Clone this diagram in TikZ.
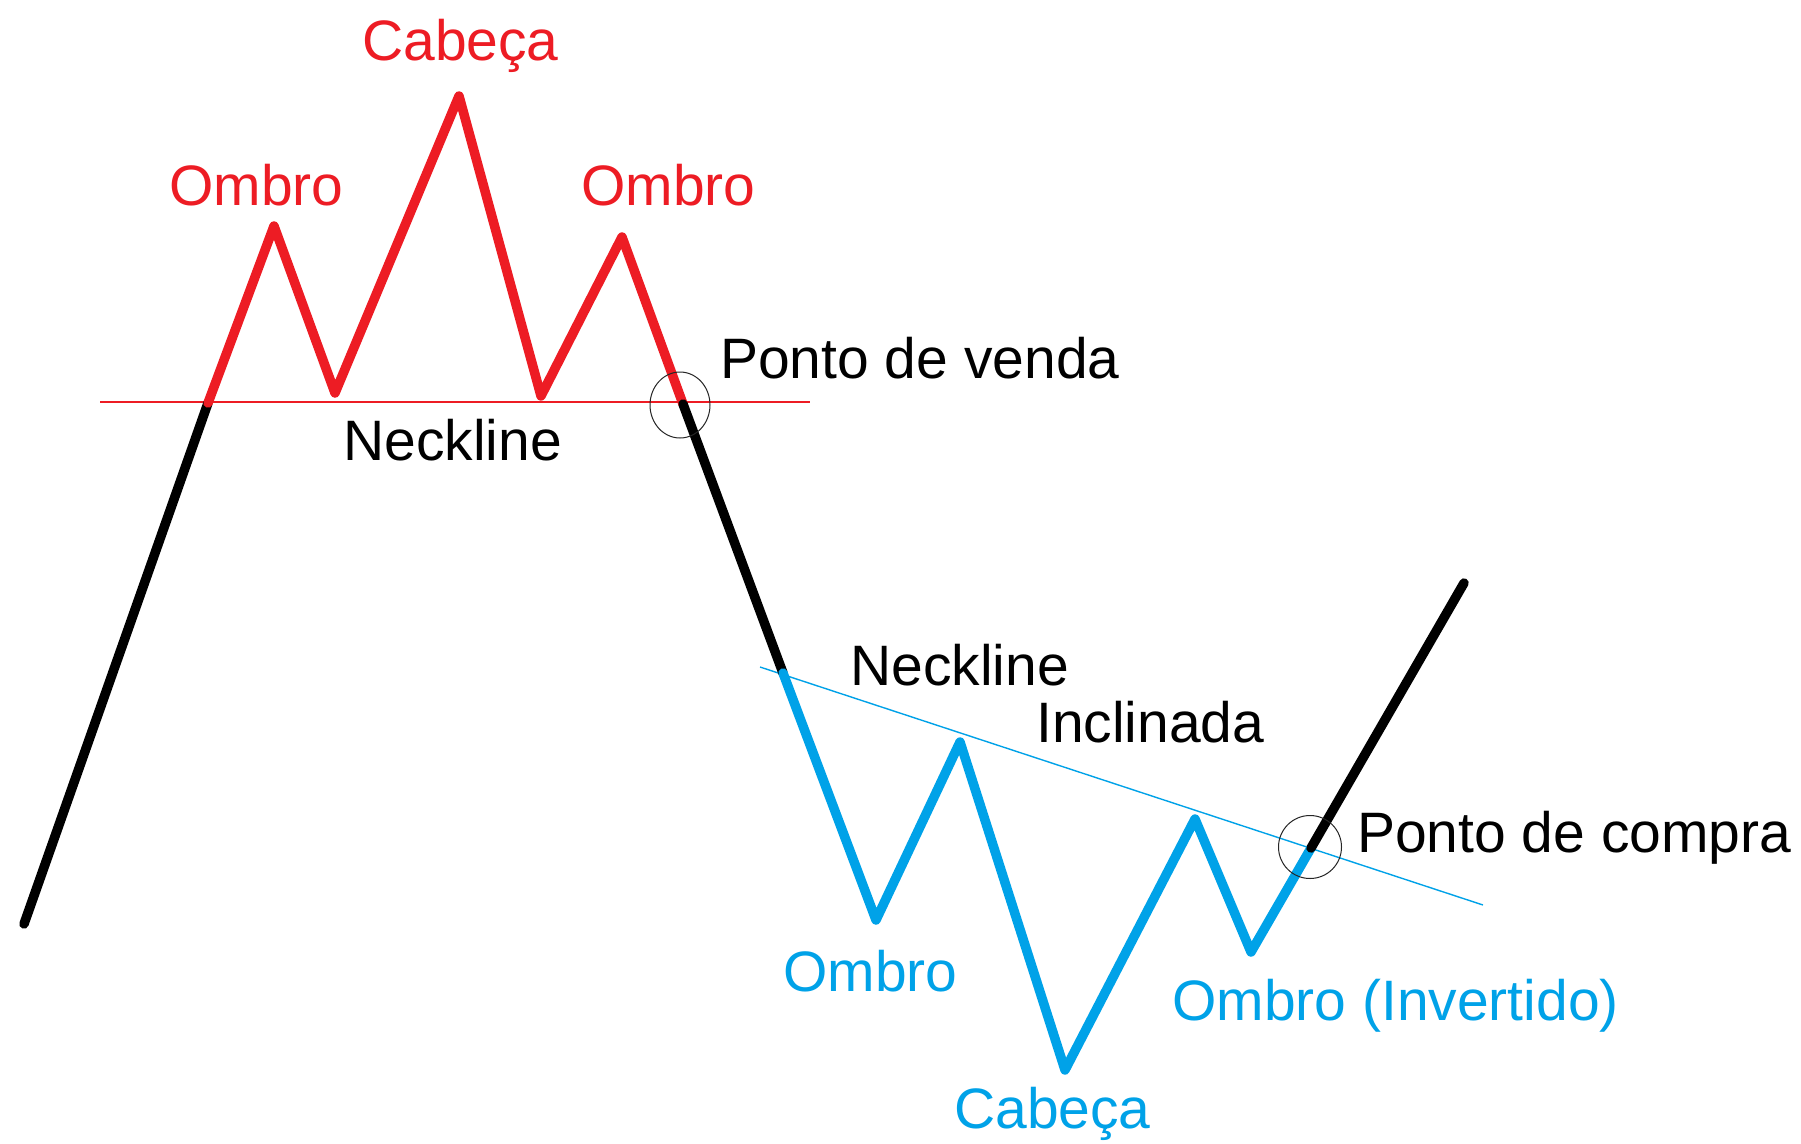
\documentclass[tikz,border=0pt]{standalone}
\usepackage{fontspec}
\setmainfont{Liberation Sans}
\definecolor{cred}{HTML}{ED1C24}
\definecolor{cblue}{HTML}{00A2E8}
\begin{document}
\begin{tikzpicture}[x=1pt,y=-1pt,
  lbl/.style={anchor=base west, inner sep=0pt, font=\fontsize{57}{60}\selectfont},
  trend/.style={line width=9.5pt, line join=round, line cap=round},
  neck/.style={line width=1.4pt},
  mark circle/.style={draw=black!85, line width=1pt}]
\useasboundingbox[fill=white] (0,0) rectangle (1801,1143);
% key points
\coordinate (s) at (24,924);
\coordinate (n1) at (208,403);
\coordinate (p1) at (274,226);
\coordinate (t1) at (335,393);
\coordinate (h) at (459,96);
\coordinate (t2) at (541,396);
\coordinate (p2) at (622,237);
\coordinate (n2) at (683,404);
\coordinate (b0) at (783,673);
\coordinate (bt1) at (876,920);
\coordinate (bp1) at (960,742);
\coordinate (bh) at (1065,1070);
\coordinate (bp2) at (1195,819);
\coordinate (bt2) at (1251,952);
\coordinate (b1) at (1311,848);
\coordinate (e) at (1464,583);
% necklines
\coordinate (nl1) at (100,402);
\coordinate (nl2) at (810,402);
\coordinate (nb1) at (760,667);
\coordinate (nb2) at (1483,905);
\draw[cred, neck] (nl1) -- (nl2);
\draw[cblue, neck] (nb1) -- (nb2);
% trend lines
\draw[trend, black] (s) -- (n1);
\draw[trend, cred] (n1) -- (p1) -- (t1) -- (h) -- (t2) -- (p2) -- (n2);
\draw[trend, black] (n2) -- (b0);
\draw[trend, cblue] (b0) -- (bt1) -- (bp1) -- (bh) -- (bp2) -- (bt2) -- (b1);
\draw[trend, black] (b1) -- (e);
% circles
\draw[mark circle] (680,405) ellipse [x radius=30pt, y radius=33pt];
\draw[mark circle] (1310,847) circle [radius=31.5pt];
% labels
\node[lbl, text=cred] (cab1) at (362,60) {Cabeça};
\node[lbl, text=cred] (omb1) at (169,205) {Ombro};
\node[lbl, text=cred] (omb2) at (581,205) {Ombro};
\node[lbl] (venda) at (720,378) {Ponto de venda};
\node[lbl] (neck1) at (343,460) {Neckline};
\node[lbl] (neck2) at (850,685) {Neckline};
\node[lbl] (incl) at (1036,742) {Inclinada};
\node[lbl] (compra) at (1357,852) {Ponto de compra};
\node[lbl, text=cblue] (omb3) at (783,991) {Ombro};
\node[lbl, text=cblue] (omb4) at (1172,1020) {Ombro (Invertido)};
\node[lbl, text=cblue] (cab2) at (954,1128) {Cabeça};
\end{tikzpicture}
\end{document}
